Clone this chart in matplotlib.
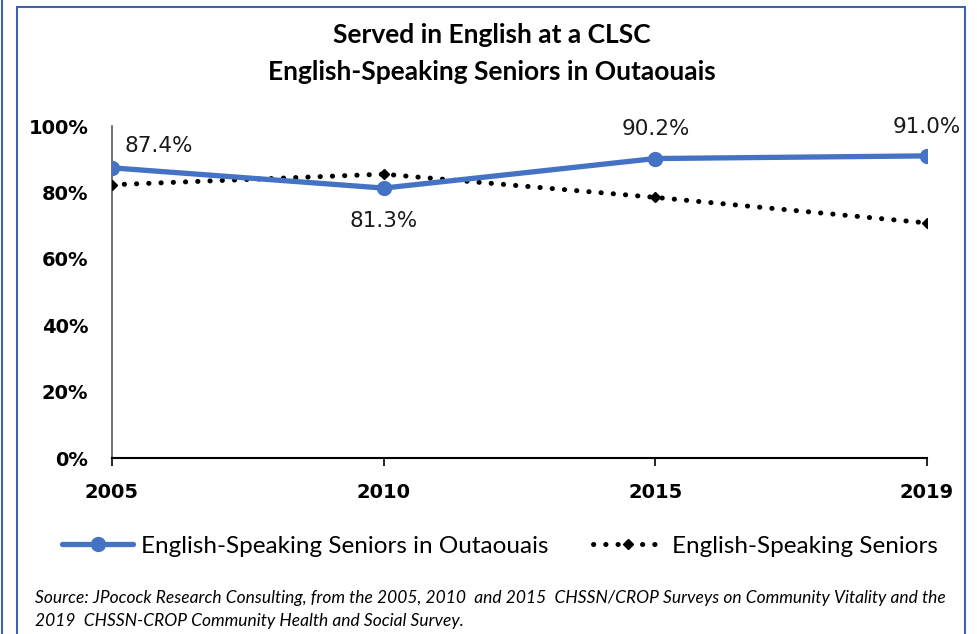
import matplotlib.pyplot as plt
from matplotlib.patches import Rectangle
from matplotlib.lines import Line2D

years = ["2005", "2010", "2015", "2019"]
outaouais = [87.4, 81.3, 90.2, 91.0]
all_seniors = [82.3, 85.5, 78.5, 70.8]
outaouais_labels = ["87.4%", "81.3%", "90.2%", "91.0%"]
y_ticks = [0, 20, 40, 60, 80, 100]

blue = "#4472C4"
narrow = "Lato"

fig = plt.figure(figsize=(9.77, 6.34), dpi=100)
ax = fig.add_axes([112 / 977, 1 - 458 / 634, (927 - 112) / 977, (458 - 126) / 634])

x = list(range(len(years)))
ax.plot(x, outaouais, color=blue, lw=3.8, marker="o", ms=10, solid_capstyle="round",
        label="English-Speaking Seniors in Outaouais", zorder=3)
ax.plot(x, all_seniors, color="black", lw=3.6, linestyle=(0, (0.05, 2.4)),
        dash_capstyle="round", marker="D", ms=5.5,
        label="English-Speaking Seniors", zorder=2)

# data labels
offsets = [(34, 16), (0, -24), (0, 21), (0, 21)]
for i, (lab, off) in enumerate(zip(outaouais_labels, offsets)):
    ax.annotate(lab, (x[i], outaouais[i]), xytext=off, textcoords="offset points",
                ha="center", va="center", fontsize=15.5, color="#1a1a1a")

ax.set_xlim(0, 3)
ax.set_ylim(0, 100)
ax.set_xticks(x)
ax.set_xticklabels(years, fontsize=14, fontweight="bold")
ax.set_yticks(y_ticks)
ax.set_yticklabels([f"{v}%" for v in y_ticks], fontsize=14, fontweight="bold")
ax.tick_params(axis="y", length=0, pad=17)
ax.tick_params(axis="x", length=6, width=1.2, direction="out", pad=12)

for s in ["top", "right"]:
    ax.spines[s].set_visible(False)
ax.spines["left"].set_color("#595959")
ax.spines["left"].set_linewidth(1.2)
ax.spines["bottom"].set_color("black")
ax.spines["bottom"].set_linewidth(1.5)
ax.spines["left"].set_zorder(1)

fig.text(492 / 977, 1 - 35 / 634, "Served in English at a CLSC", ha="center", va="center",
         fontsize=19, fontweight="bold", family=narrow)
fig.text(492 / 977, 1 - 72 / 634, "English-Speaking Seniors in Outaouais", ha="center", va="center",
         fontsize=19, fontweight="bold", family=narrow)

leg = fig.legend(loc="center", bbox_to_anchor=(500 / 977, 1 - 546 / 634), ncol=2, frameon=False,
                 prop={"family": narrow, "size": 17.5}, handlelength=2.9, columnspacing=1.8,
                 handletextpad=0.35)

fig.text(35 / 977, 1 - 598 / 634,
         "Source: JPocock Research Consulting, from the 2005, 2010  and 2015  CHSSN/CROP Surveys on Community Vitality and the",
         ha="left", va="center", fontsize=12.5, style="italic", family=narrow)
fig.text(35 / 977, 1 - 621 / 634,
         "2019  CHSSN-CROP Community Health and Social Survey.",
         ha="left", va="center", fontsize=12.5, style="italic", family=narrow)

# border lines
fig.add_artist(Line2D([2 / 977, 2 / 977], [0, 1], transform=fig.transFigure, color="#3D63B0", lw=1.5))
fig.add_artist(Rectangle((17 / 977, -0.05), (965 - 17) / 977, 1.05 - 7 / 634, transform=fig.transFigure,
                         fill=False, edgecolor="#3D63B0", lw=1.5))

fig.savefig("out.png", dpi=100)
